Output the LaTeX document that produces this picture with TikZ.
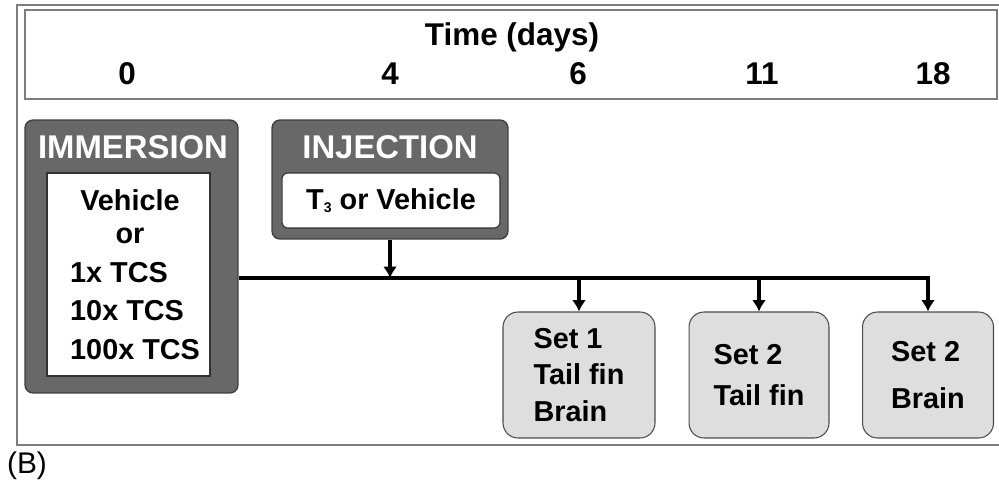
\documentclass[tikz,border=0pt]{standalone}
\usepackage{fontspec}
\setmainfont{Liberation Sans}
\usetikzlibrary{arrows.meta}
\definecolor{darkbox}{RGB}{104,104,104}
\definecolor{lightbox}{RGB}{222,222,222}
\definecolor{framegray}{RGB}{125,125,125}
\tikzset{
  bodytext/.style={font=\bfseries\fontsize{16.4}{21}\selectfont},
  titletext/.style={text=white, font=\bfseries\fontsize{18.7}{22}\selectfont},
  daytext/.style={font=\bfseries\fontsize{17.9}{21}\selectfont},
  treatbox/.style={draw=black!75, fill=darkbox, rounded corners=0.16cm, line width=0.8pt, inner sep=0pt},
  agentbox/.style={draw=black!80, fill=white, line width=0.6pt, inner sep=0pt},
  setbox/.style={draw=black!70, fill=lightbox, rounded corners=0.3cm, line width=0.6pt, inner sep=0pt, align=left, bodytext},
  conn/.style={line width=1.8pt, -{Latex[length=6.5pt,width=8pt]}},
}
\newcommand\tinysub[1]{\raisebox{-2pt}{\fontsize{8}{8}\selectfont #1}}
\begin{document}
\begin{tikzpicture}[x=0.02cm,y=-0.02cm]
\useasboundingbox (0,0) rectangle (999,483);
% frames
\draw[framegray, line width=1pt] (17,5) rectangle (1010,445);
\draw[framegray, line width=1pt] (25,10) rectangle (997,99);
% time axis
\node[daytext] (time) at (512,37) {Time (days)};
\node[daytext] (d0) at (127,74) {0};
\node[daytext] (d4) at (390,74) {4};
\node[daytext] (d6) at (578,74) {6};
\node[daytext] (d11) at (762,74) {11};
\node[daytext] (d18) at (933,74) {18};
% immersion
\node[treatbox, minimum width=4.26cm, minimum height=5.46cm] (imm) at (131.5,256.5) {};
\node[titletext] (immT) at (133,147) {IMMERSION};
\node[agentbox, minimum width=3.26cm, minimum height=4.06cm] (immA) at (128.5,274.5) {};
\node[bodytext] (veh) at (130,200) {Vehicle};
\node[bodytext] (or) at (130,236) {or};
\node[bodytext, anchor=west] (tcs1) at (64,273) {1x TCS};
\node[bodytext, anchor=west] (tcs10) at (64,311) {10x TCS};
\node[bodytext, anchor=west] (tcs100) at (64,350) {100x TCS};
% injection
\node[treatbox, minimum width=4.72cm, minimum height=2.38cm] (inj) at (390,179.5) {};
\node[titletext] (injT) at (390,147) {INJECTION};
\node[agentbox, bodytext, rounded corners=0.12cm, minimum width=4.36cm, minimum height=1.1cm] (injA) at (391,200.5) {T\tinysub{3} or Vehicle};
% sampling
\node[setbox, minimum width=3.04cm, minimum height=2.52cm, font=\bfseries\fontsize{16.4}{21}\selectfont] (s1) at (579,375) {Set 1\\Tail fin\\Brain};
\node[setbox, minimum width=2.8cm, minimum height=2.52cm, font=\bfseries\fontsize{16.4}{23.3}\selectfont] (s2) at (759,375) {Set 2\\Tail fin};
\node[setbox, minimum width=2.62cm, minimum height=2.52cm, font=\bfseries\fontsize{16.4}{26.7}\selectfont] (s3) at (928,375) {Set 2\\Brain};
% connectors
\coordinate (jn) at (390,278);
\draw[conn] (inj.south) -- (jn);
\draw[conn] (imm.east |- jn) -- (jn -| s3.north) -- (s3.north);
\draw[conn] (jn -| s1.north) -- (s1.north);
\draw[conn] (jn -| s2.north) -- (s2.north);
\node[font=\fontsize{17}{20}\selectfont] (panel) at (27,466) {(B)};
\end{tikzpicture}
\end{document}
